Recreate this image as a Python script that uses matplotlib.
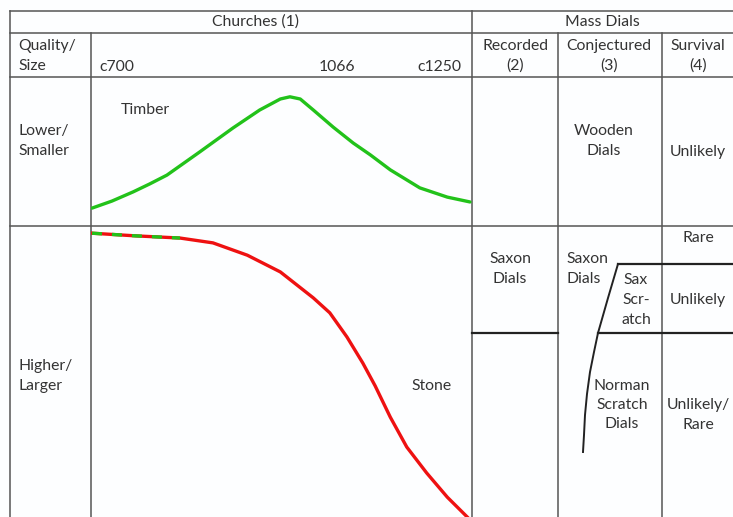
import matplotlib
matplotlib.use("Agg")
import matplotlib.pyplot as plt

# ---------------- data ----------------
timber_years = [700, 729, 760, 784, 809, 857, 905, 944, 974, 988, 1003, 1022, 1051, 1080, 1105, 1134, 1177, 1217, 1250]
timber_level = [70.2, 71.8, 73.9, 75.7, 77.7, 83.0, 88.4, 92.5, 95.0, 95.5, 95.0, 92.5, 88.6, 85.0, 82.3, 78.9, 74.8, 72.7, 71.6]

stone_years = [700, 763, 828, 876, 926, 974, 1022, 1046, 1071, 1094, 1112, 1134, 1158, 1187, 1217, 1246, 1260]
stone_level = [64.5, 63.9, 63.4, 62.3, 59.5, 55.7, 49.8, 46.4, 40.9, 35.0, 29.8, 22.7, 15.9, 10.0, 4.5, 0.0, -2.3]
stone_uncertain_until = 828  # red/green dashed part

period_labels = ["c700", "1066", "c1250"]
header_main = ["Churches (1)", "Mass Dials"]
sub_headers = ["Recorded\n(2)", "Conjectured\n(3)", "Survival\n(4)"]
row_labels = ["Lower/\nSmaller", "Higher/\nLarger"]

W, H = 733, 517
fig = plt.figure(figsize=(W / 100, H / 100), dpi=100)
fig.patch.set_facecolor("#fdfeff")
ax = fig.add_axes([0, 0, 1, 1])
ax.set_xlim(0, W)
ax.set_ylim(H, 0)
ax.axis("off")

grid = "#555555"
lw = 1.1
# table rules
ax.plot([10, W], [11, 11], color=grid, lw=lw)
ax.plot([10, W], [33, 33], color=grid, lw=lw)
ax.plot([10, W], [77, 77], color=grid, lw=lw)
ax.plot([10, W], [226, 226], color=grid, lw=lw)
ax.plot([10, 10], [11, H], color=grid, lw=lw)
ax.plot([91, 91], [33, H], color=grid, lw=lw)
ax.plot([472, 472], [11, H], color=grid, lw=lw)
ax.plot([558, 558], [33, H], color=grid, lw=lw)
ax.plot([662, 662], [33, H], color=grid, lw=lw)
# inner dividers
dark = "#222222"
ax.plot([472, 558], [333, 333], color=dark, lw=1.6)
ax.plot([598, W], [333, 333], color=dark, lw=1.6)
ax.plot([618, W], [264, 264], color=dark, lw=1.6)
ax.plot([618, 608, 598, 594, 590, 587, 585, 584, 583],
        [264, 298, 333, 352, 372, 394, 415, 435, 452], color=dark, lw=1.4)

tc = "#333333"
fs = 11.3
fam = ["Lato", "DejaVu Sans"]
def t(x, y, s, ha="center"):
    ax.text(x, y, s, ha=ha, va="center", fontsize=fs, color=tc, family=fam, linespacing=1.5)

t(256, 22, header_main[0])
t(602, 22, header_main[1])
t(18, 56, "Quality/\nSize", ha="left")
t(99, 67, period_labels[0], ha="left")
t(337, 67, period_labels[1])
t(461, 67, period_labels[2], ha="right")
t(515, 56, sub_headers[0])
t(609, 56, sub_headers[1])
t(698, 56, sub_headers[2])

t(18, 141, row_labels[0], ha="left")
t(18, 376, row_labels[1], ha="left")
t(145, 110, "Timber")
t(604, 141, "Wooden\nDials")
t(698, 152, "Unlikely")
t(432, 386, "Stone")
t(510, 269, "Saxon\nDials")
t(566, 269, "Saxon\nDials", ha="left")
t(636, 300, "Sax\nScr-\natch")
t(698, 238, "Rare")
t(698, 300, "Unlikely")
t(622, 405, "Norman\nScratch\nDials")
t(698, 415, "Unlikely/\nRare")

# churches chart area
x0, x1, y0, y1 = 91, 472, 77, H
ac = fig.add_axes([x0 / W, 0, (x1 - x0) / W, (y1 - y0) / H])
ac.set_xlim(700 - 1 / 0.6873, 1250 + 2 / 0.6873)
ac.set_ylim(0, 100)
ac.axis("off")
ac.patch.set_alpha(0)

ac.plot(timber_years, timber_level, color="#22c21a", lw=2.4, solid_joinstyle="round", solid_capstyle="round")
ac.plot(stone_years, stone_level, color="#ee1111", lw=2.4, solid_joinstyle="round")
uy = [y for y in stone_years if y <= stone_uncertain_until]
ul = [l for y, l in zip(stone_years, stone_level) if y <= stone_uncertain_until]
ac.plot(uy, ul, color="#22c21a", lw=2.4, dashes=(3, 3), dash_capstyle="butt")

fig.savefig("out.png", dpi=100, facecolor=fig.get_facecolor())
